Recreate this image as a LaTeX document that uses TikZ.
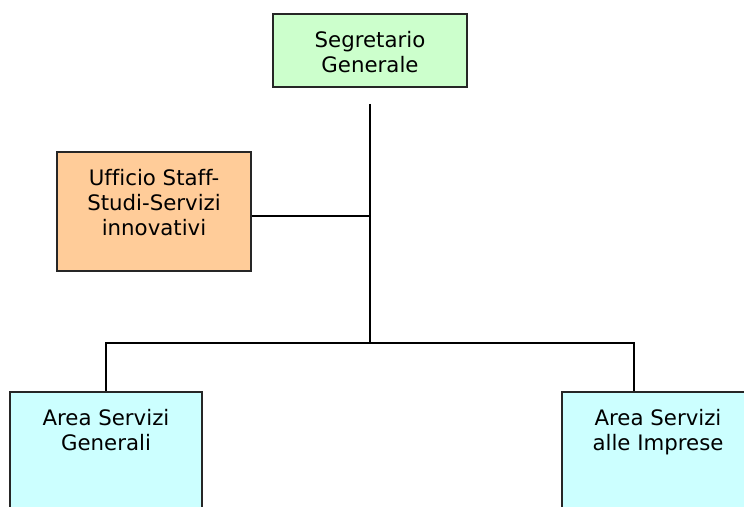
\documentclass[tikz,border=0pt]{standalone}
\usepackage{fontspec}
\setmainfont[Ligatures=NoCommon]{DejaVu Sans}
\usetikzlibrary{positioning}
\definecolor{sgreen}{HTML}{CCFFCC}
\definecolor{sorange}{HTML}{FFCC99}
\definecolor{scyan}{HTML}{CCFFFF}

\tikzset{
  box/.style={draw=black!85, line width=1.8pt, minimum width=194pt, inner sep=0pt},
  boxtext/.style={anchor=north, align=center, inner sep=0pt, font=\fontsize{21.3}{25}\selectfont},
  link/.style={line width=1.7pt}
}

\begin{document}
\begin{tikzpicture}[x=1pt,y=-1pt]
  \useasboundingbox (0,0) rectangle (744,506);
  \clip (0,0) rectangle (744,506);
  % boxes
  \node (sg) [box, fill=sgreen, minimum height=73pt] at (370,50.5) {};
  \node (staff) [box, fill=sorange, minimum height=119pt] at (154,211.5) {};
  \node (gen) [box, fill=scyan, minimum width=192pt, minimum height=160pt] at (106,472) {};
  \node (imp) [box, fill=scyan, minimum width=192pt, minimum height=160pt] at (658,472) {};
  % texts
  \node (sgtxt) [boxtext] at ([yshift=-18.5pt]sg.north) {Segretario\\Generale};
  \node (stafftxt) [boxtext] at ([yshift=-18.5pt]staff.north) {Ufficio Staff-\\Studi-Servizi\\innovativi};
  \node (gentxt) [boxtext] at ([yshift=-18.5pt]gen.north) {Area Servizi\\Generali};
  \node (imptxt) [boxtext] at ([yshift=-18.5pt]imp.north) {Area Servizi\\alle Imprese};
  % connectors
  \coordinate (trunk) at ([yshift=-16pt]sg.south);
  \coordinate (hub) at (370,343);
  \draw[link] (trunk) -- (hub);
  \draw[link] ([yshift=-4.5pt]staff.east) -- ([yshift=-4.5pt]staff.east -| hub);
  \draw[link] (hub) -| (gen.north);
  \draw[link] (hub) -| ([xshift=-24pt]imp.north);
\end{tikzpicture}
\end{document}
